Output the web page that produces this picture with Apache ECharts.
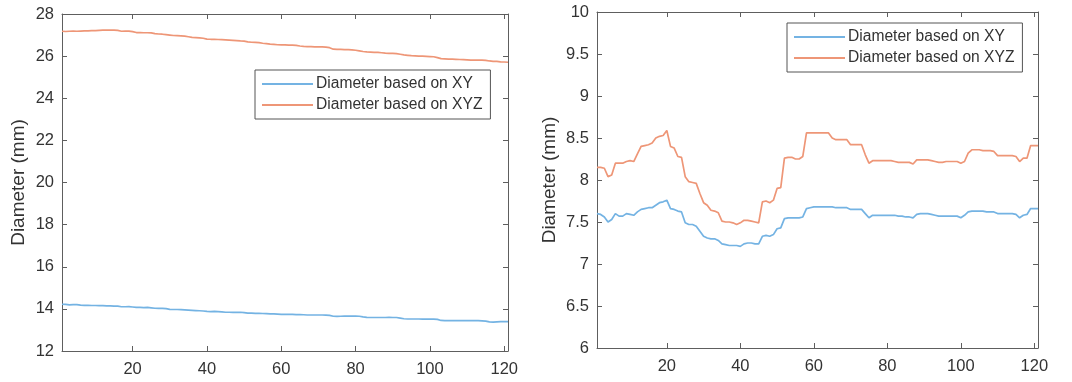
<!DOCTYPE html>
<html>
<head>
<meta charset="utf-8">
<script src="https://cdn.jsdelivr.net/npm/echarts@6/dist/echarts.min.js"></script>
<style>
html,body{margin:0;padding:0;background:#fff;}
#c{width:1072px;height:382px;}
</style>
</head>
<body>
<div id="c"></div>
<script>
// ---- data ----
const xIndex = Array.from({length: 121}, (_, i) => i + 1);
const xTickValues = [20, 40, 60, 80, 100, 120];
const seriesNames = ['Diameter based on XY', 'Diameter based on XYZ'];

const leftXY = [
  14.22,14.21,14.19,14.2,14.2, 14.18,14.17,14.17,14.16,14.16,
  14.15,14.15,14.14,14.14,14.13, 14.13,14.1,14.1,14.11,14.09,
  14.07,14.07,14.06,14.07,14.05, 14.03,14.02,14.02,14.01,13.98,
  13.97,13.97,13.96,13.95,13.94, 13.93,13.92,13.91,13.9,13.88,
  13.87,13.88,13.87,13.86,13.84, 13.84,13.83,13.83,13.84,13.82,
  13.8,13.8,13.79,13.79,13.78, 13.77,13.76,13.76,13.75,13.74,
  13.74,13.74,13.74,13.73,13.73, 13.72,13.71,13.71,13.71,13.71,
  13.71,13.7,13.69,13.65,13.64, 13.65,13.66,13.66,13.66,13.66,
  13.65,13.62,13.6,13.59,13.59, 13.59,13.59,13.59,13.6,13.59,
  13.59,13.56,13.53,13.52,13.52, 13.52,13.52,13.51,13.51,13.52,
  13.51,13.5,13.45,13.44,13.44, 13.44,13.44,13.44,13.44,13.44,
  13.44,13.44,13.44,13.43,13.42, 13.38,13.37,13.38,13.39,13.39,13.39
];
const leftXYZ = [
  27.18,27.17,27.18,27.19,27.18, 27.19,27.2,27.2,27.21,27.21,
  27.22,27.23,27.23,27.23,27.23, 27.22,27.18,27.19,27.19,27.16,
  27.12,27.12,27.11,27.11,27.1, 27.07,27.05,27.04,27.02,27.0,
  26.98,26.97,26.96,26.95,26.92, 26.89,26.88,26.87,26.85,26.81,
  26.8,26.8,26.79,26.78,26.77, 26.76,26.75,26.74,26.72,26.71,
  26.68,26.66,26.65,26.64,26.61, 26.59,26.57,26.56,26.54,26.53,
  26.53,26.52,26.52,26.51,26.48, 26.46,26.45,26.45,26.44,26.44,
  26.44,26.43,26.4,26.33,26.32, 26.32,26.31,26.31,26.3,26.28,
  26.25,26.22,26.2,26.19,26.18, 26.18,26.16,26.14,26.13,26.13,
  26.12,26.09,26.06,26.04,26.02, 26.01,26.0,26.0,25.99,25.98,
  25.97,25.93,25.88,25.87,25.86, 25.86,25.85,25.84,25.83,25.82,
  25.81,25.81,25.81,25.81,25.8, 25.77,25.75,25.75,25.73,25.72,25.71
];
const rightXY = [
  7.6,7.59,7.56,7.5,7.53, 7.6,7.57,7.57,7.6,7.59,
  7.58,7.62,7.65,7.66,7.67, 7.67,7.7,7.73,7.74,7.76,
  7.66,7.65,7.63,7.62,7.49, 7.47,7.47,7.45,7.39,7.33,
  7.31,7.3,7.3,7.28,7.24, 7.23,7.22,7.22,7.22,7.21,
  7.24,7.25,7.25,7.24,7.24, 7.33,7.34,7.33,7.35,7.42,
  7.43,7.54,7.55,7.55,7.55, 7.55,7.56,7.66,7.67,7.68,
  7.68,7.68,7.68,7.68,7.68, 7.67,7.67,7.67,7.67,7.65,
  7.65,7.65,7.65,7.6,7.55, 7.58,7.58,7.58,7.58,7.58,
  7.58,7.58,7.57,7.57,7.56, 7.56,7.55,7.59,7.6,7.6,
  7.6,7.59,7.58,7.57,7.57, 7.57,7.57,7.57,7.57,7.55,
  7.58,7.62,7.63,7.63,7.63, 7.63,7.62,7.62,7.62,7.6,
  7.6,7.6,7.6,7.6,7.59, 7.55,7.58,7.59,7.66,7.66,7.66
];
const rightXYZ = [
  8.15,8.15,8.14,8.04,8.06, 8.2,8.2,8.2,8.22,8.23,
  8.22,8.31,8.4,8.41,8.42, 8.44,8.5,8.52,8.53,8.59,
  8.4,8.38,8.28,8.27,8.04, 7.98,7.97,7.96,7.84,7.73,
  7.7,7.64,7.63,7.61,7.51, 7.5,7.5,7.49,7.47,7.49,
  7.52,7.52,7.51,7.5,7.49, 7.74,7.75,7.73,7.76,7.9,
  7.91,8.26,8.27,8.27,8.25, 8.25,8.28,8.56,8.56,8.56,
  8.56,8.56,8.56,8.56,8.5, 8.48,8.48,8.48,8.48,8.42,
  8.42,8.42,8.42,8.3,8.2, 8.23,8.23,8.23,8.23,8.23,
  8.23,8.22,8.21,8.21,8.21, 8.21,8.19,8.24,8.24,8.24,
  8.24,8.23,8.22,8.21,8.21, 8.22,8.22,8.22,8.22,8.2,
  8.22,8.32,8.36,8.36,8.36, 8.35,8.35,8.35,8.34,8.29,
  8.29,8.29,8.29,8.29,8.28, 8.22,8.26,8.26,8.41,8.41,8.41
];
const yTitle = 'Diameter (mm)';

// ---- chart ----
const FONT = 'Liberation Sans, Arial, Helvetica, sans-serif';
const AXIS_COLOR = '#5e5e5e';
const LABEL_COLOR = '#333333';
const BLUE = '#74b3e3';
const ORANGE = '#ee9677';

function pairs(ys) { return ys.map((v, i) => [xIndex[i], v]); }

function xAxes(gridIndex) {
  const base = {
    type: 'value', gridIndex, min: 1, max: 121,
    splitLine: {show: false},
    axisLine: {show: true, onZero: false, lineStyle: {color: AXIS_COLOR, width: 1}},
    axisTick: {show: true, inside: true, length: 5, customValues: xTickValues, lineStyle: {color: AXIS_COLOR}},
  };
  return [
    Object.assign({}, base, {position: 'bottom',
      axisLabel: {show: true, customValues: xTickValues, margin: 10, fontSize: 16.5, color: LABEL_COLOR, fontFamily: FONT}}),
    Object.assign({}, base, {position: 'top', axisLabel: {show: false}})
  ];
}
function yAxes(gridIndex, min, max, interval, gap) {
  const base = {
    type: 'value', gridIndex, min, max, interval,
    splitLine: {show: false},
    axisLine: {show: true, onZero: false, lineStyle: {color: AXIS_COLOR, width: 1}},
    axisTick: {show: true, inside: true, length: 5, lineStyle: {color: AXIS_COLOR}},
  };
  return [
    Object.assign({}, base, {position: 'left',
      name: yTitle, nameLocation: 'middle', nameGap: gap, nameRotate: 90,
      nameTextStyle: {fontSize: 19, color: LABEL_COLOR, fontFamily: FONT},
      axisLabel: {show: true, margin: 8, fontSize: 16.5, color: LABEL_COLOR, fontFamily: FONT}}),
    Object.assign({}, base, {position: 'right', axisLabel: {show: false}})
  ];
}

const legendBase = {
  orient: 'vertical', data: seriesNames,
  icon: 'rect', itemWidth: 51, itemHeight: 2, itemGap: 5,
  backgroundColor: '#fff', borderColor: '#555', borderWidth: 1, borderRadius: 0,
  padding: [6, 8, 6, 7],
  textStyle: {fontSize: 15.6, color: LABEL_COLOR, fontFamily: FONT, padding: [0, 0, 0, -2]},
  selectedMode: false
};

const chart = echarts.init(document.getElementById('c'), null, {renderer: 'canvas'});
chart.setOption({
  animation: false,
  backgroundColor: '#ffffff',
  grid: [
    {left: 62, top: 14, width: 446, height: 337},
    {left: 597, top: 12, width: 441, height: 336}
  ],
  xAxis: [...xAxes(0), ...xAxes(1)],
  yAxis: [...yAxes(0, 12, 28, 2, 34), ...yAxes(1, 6, 10, 0.5, 38)],
  legend: [
    Object.assign({}, legendBase, {left: 255, top: 70}),
    Object.assign({}, legendBase, {left: 787, top: 23})
  ],
  series: [
    {name: seriesNames[0], type: 'line', xAxisIndex: 0, yAxisIndex: 0, data: pairs(leftXY),
     showSymbol: false, lineStyle: {width: 1.7, color: BLUE}, itemStyle: {color: BLUE}},
    {name: seriesNames[1], type: 'line', xAxisIndex: 0, yAxisIndex: 0, data: pairs(leftXYZ),
     showSymbol: false, lineStyle: {width: 1.7, color: ORANGE}, itemStyle: {color: ORANGE}},
    {name: seriesNames[0], type: 'line', xAxisIndex: 2, yAxisIndex: 2, data: pairs(rightXY),
     showSymbol: false, lineStyle: {width: 1.7, color: BLUE}, itemStyle: {color: BLUE}},
    {name: seriesNames[1], type: 'line', xAxisIndex: 2, yAxisIndex: 2, data: pairs(rightXYZ),
     showSymbol: false, lineStyle: {width: 1.7, color: ORANGE}, itemStyle: {color: ORANGE}}
  ]
});
</script>
</body>
</html>
